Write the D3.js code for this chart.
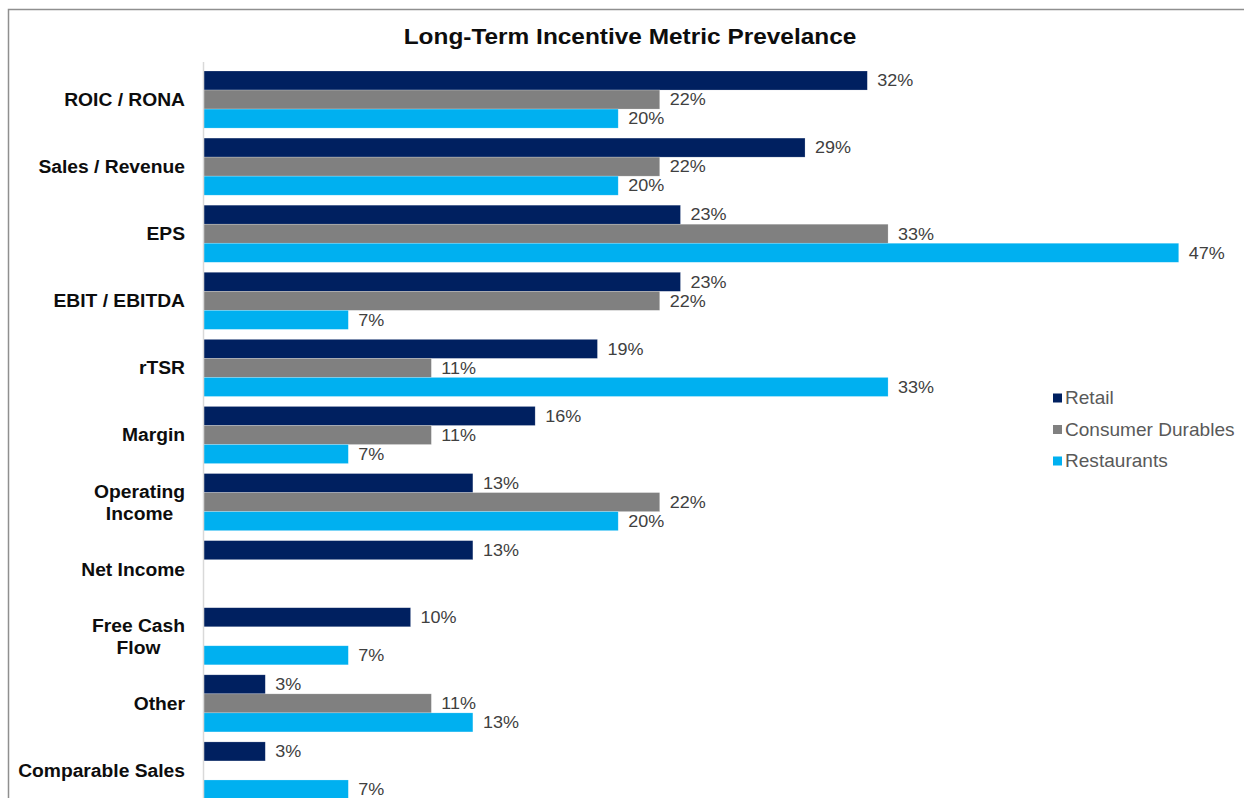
<!DOCTYPE html>
<html>
<head>
<meta charset="utf-8">
<script src="https://cdn.jsdelivr.net/npm/d3@7"></script>
<style>
  html, body { margin: 0; padding: 0; background: #fff; }
  svg { display: block; font-family: "Liberation Sans", Arial, sans-serif; }
</style>
</head>
<body>
<svg id="chart" width="1244" height="798"></svg>
<script>
// Metric categories (label lines) and prevalence by industry, in percent
const categories = [
  ["ROIC / RONA"], ["Sales / Revenue"], ["EPS"], ["EBIT / EBITDA"], ["rTSR"],
  ["Margin"], ["Operating", "Income"], ["Net Income"], ["Free Cash", "Flow"],
  ["Other"], ["Comparable Sales"]
];
const seriesNames = ["Retail", "Consumer Durables", "Restaurants"];
const retail      = [32, 29, 23, 23, 19, 16, 13, 13, 10, 3, 3];
const durables    = [22, 22, 33, 22, 11, 11, 22, null, null, 11, null];
const restaurants = [20, 20, 47, 7, 33, 7, 20, null, 7, 13, 7];
const colors = ["#002060", "#808080", "#00B0F0"];

const svg = d3.select("#chart");
const catKeys = categories.map(c => c.join(" "));
const values = [retail, durables, restaurants];

const x = d3.scaleLinear().domain([0, 50]).range([203, 1241]);
const y0 = d3.scaleBand().domain(catKeys).range([66, 804])
  .paddingInner(0.149).paddingOuter(0.0745);
const y1 = d3.scaleBand().domain(seriesNames).range([0, y0.bandwidth()]);

// text is drawn slightly wide, anchored at (px, py)
function wideText(parent, px, py, sx) {
  return parent.append("g")
    .attr("transform", `translate(${px},${py}) scale(${sx},1)`)
    .append("text");
}

// outer frame
svg.append("path")
  .attr("d", "M8.5,798V9.5H1244")
  .attr("fill", "none").attr("stroke", "#8f8f8f").attr("stroke-width", 1.5);

// title
wideText(svg, 630, 44, 1.11)
  .attr("text-anchor", "middle")
  .attr("font-size", 22).attr("font-weight", "bold").attr("fill", "#0d0d0d")
  .text("Long-Term Incentive Metric Prevelance");

// bars and value labels
const groups = svg.append("g").selectAll("g")
  .data(catKeys)
  .join("g")
  .attr("transform", k => `translate(0,${y0(k)})`);

groups.each(function(k, i) {
  const g = d3.select(this);
  const rows = seriesNames.map((s, j) => ({ s, j, v: values[j][i] })).filter(d => d.v != null);
  g.selectAll("rect").data(rows).join("rect")
    .attr("x", x(0))
    .attr("y", d => y1(d.s))
    .attr("width", d => x(d.v) - x(0))
    .attr("height", y1.bandwidth())
    .attr("fill", d => colors[d.j])
    .attr("stroke", "#ffffff").attr("stroke-opacity", 0.35).attr("stroke-width", 0.6);
  rows.forEach(d => {
    wideText(g, x(d.v) + 10, y1(d.s) + y1.bandwidth() / 2, 1.06)
      .attr("dy", "0.34em")
      .attr("font-size", 17).attr("fill", "#404040")
      .text(d.v + "%");
  });
});

// category axis line
svg.append("line")
  .attr("x1", x(0) + 0.5).attr("x2", x(0) + 0.5)
  .attr("y1", 62).attr("y2", 798)
  .attr("stroke", "#d9d9d9").attr("stroke-width", 1.5);

// category labels (wrapped lines centred on each other, block right-aligned)
const lineH = 22;
categories.forEach((lines, i) => {
  const cy = y0(catKeys[i]) + y0.bandwidth() / 2;
  const t = wideText(svg, 185, cy, 1.07)
    .attr("font-size", 18).attr("font-weight", "bold").attr("fill", "#0d0d0d")
    .attr("text-anchor", "middle");
  const spans = lines.map((ln, li) => t.append("tspan")
    .attr("y", (li - (lines.length - 1) / 2) * lineH)
    .attr("dy", "0.36em")
    .text(ln));
  let maxW = 0;
  spans.forEach(s => { maxW = Math.max(maxW, s.node().getComputedTextLength()); });
  spans.forEach(s => s.attr("x", -maxW / 2));
});

// legend
const legend = svg.append("g").attr("transform", "translate(1053,398)");
seriesNames.forEach((name, j) => {
  const row = legend.append("g").attr("transform", `translate(0,${j * 31.5})`);
  row.append("rect").attr("x", 0).attr("y", -4.5).attr("width", 9).attr("height", 9)
    .attr("fill", colors[j]);
  wideText(row, 12, 0, 1.06)
    .attr("dy", "0.36em")
    .attr("font-size", 18).attr("fill", "#595959").text(name);
});
</script>
</body>
</html>
